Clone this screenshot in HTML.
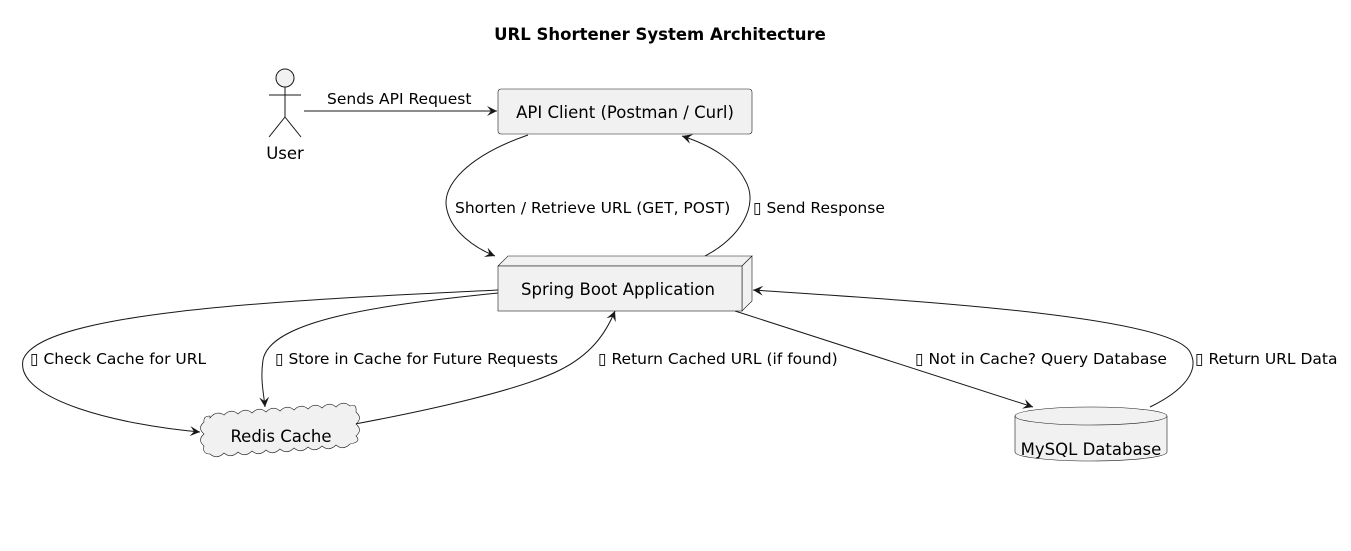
<!DOCTYPE html>
<html><head><meta charset="utf-8"><style>
html,body{margin:0;padding:0;background:#fff;}
svg{display:block;font-family:"DejaVu Sans","Liberation Sans",sans-serif;}
</style></head><body>
<svg width="1351" height="551" viewBox="0 0 1351 551">
<defs><marker id="a" markerWidth="12" markerHeight="10" refX="10" refY="5" orient="auto" markerUnits="userSpaceOnUse"><path d="M0,0 L10,5 L0,10 L4,5 Z" fill="#181818"/></marker></defs>
<text x="660" y="40" text-anchor="middle" font-weight="bold" font-size="16.5" fill="#000">URL Shortener System Architecture</text>
<g stroke="#181818" stroke-width="1" fill="none">
<circle cx="285" cy="78" r="9" fill="#f1f1f1"/>
<line x1="285" y1="87" x2="285" y2="117"/>
<line x1="269" y1="95" x2="301" y2="95"/>
<line x1="285" y1="117" x2="269" y2="137"/>
<line x1="285" y1="117" x2="301" y2="137"/>
</g>
<text x="285" y="159" text-anchor="middle" font-size="16.5">User</text>
<g stroke="#181818" stroke-width="1" fill="none" marker-end="url(#a)">
<line x1="304" y1="111" x2="497" y2="111"/>
<path d="M528,135 C470,155 440,185 447,210 C452,232 475,248 495,256"/>
<path d="M705,256 C740,238 760,205 745,180 C735,160 710,145 682,136"/>
<path d="M498,290 C300,300 40,310 23,360 C15,400 120,425 200,432"/>
<path d="M498,293 C380,305 270,320 263,360 C260,380 264,395 265,407"/>
<path d="M355,424 C430,410 520,390 560,370 C590,355 605,335 615,311"/>
<path d="M735,311 L1033,407"/>
<path d="M1150,407 C1185,390 1200,370 1190,352 C1170,315 900,300 753,290"/>
</g>
<rect x="498" y="89" width="254" height="45" rx="3" fill="#f1f1f1" stroke="#181818" stroke-width="0.6"/>
<text x="625" y="118" text-anchor="middle" font-size="16.5">API Client (Postman / Curl)</text>
<g fill="#f1f1f1" stroke="#181818" stroke-width="0.6">
<polygon points="498,266 508,256 752,256 742,266"/>
<polygon points="742,266 752,256 752,301 742,311"/>
<rect x="498" y="266" width="244" height="45"/>
</g>
<text x="618" y="295" text-anchor="middle" font-size="16.5">Spring Boot Application</text>
<path d="M210,418 q6,-8 14,-3 q7,-7 14,-1 q7,-7 14,-1 q7,-7 14,-1 q7,-7 14,-1 q7,-7 14,-1 q7,-7 14,-1 q7,-7 14,-1 q7,-7 14,-1 q7,-7 14,-1 q7,-3 6,6 q7,6 0,12 q7,6 0,12 q6,6 -6,8 q-7,7 -14,1 q-7,7 -14,1 q-7,7 -14,1 q-7,7 -14,1 q-7,7 -14,1 q-7,7 -14,1 q-7,7 -14,1 q-7,7 -14,1 q-7,7 -14,1 q-7,7 -14,1 q-8,0 -6,-8 q-7,-6 0,-12 q-7,-6 0,-12 q-1,-6 6,-6 Z" fill="#f1f1f1" stroke="#181818" stroke-width="0.6"/>
<text x="281" y="442" text-anchor="middle" font-size="16.5">Redis Cache</text>
<path d="M1015,416 L1015,452 A76,9 0 0 0 1167,452 L1167,416" fill="#f1f1f1" stroke="#181818" stroke-width="0.6"/>
<ellipse cx="1091" cy="416" rx="76" ry="9" fill="#f1f1f1" stroke="#181818" stroke-width="0.6"/>
<text x="1091" y="455" text-anchor="middle" font-size="16.5">MySQL Database</text>
<g font-size="15.5" fill="#000">
<text x="327" y="104">Sends API Request</text>
<text x="455" y="213">Shorten / Retrieve URL (GET, POST)</text>
<text x="753" y="213">▯ Send Response</text>
<text x="30" y="364">▯ Check Cache for URL</text>
<text x="275" y="364">▯ Store in Cache for Future Requests</text>
<text x="598" y="364">▯ Return Cached URL (if found)</text>
<text x="915" y="364">▯ Not in Cache? Query Database</text>
<text x="1195" y="364">▯ Return URL Data</text>
</g>
</svg>
</body></html>
